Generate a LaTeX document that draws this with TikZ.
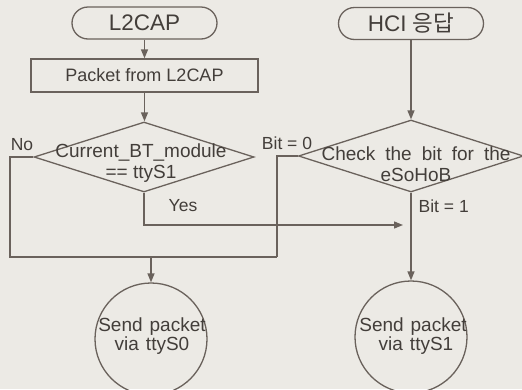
\documentclass[tikz,border=0pt]{standalone}
\usepackage{fontspec}
\setmainfont{Liberation Sans}
\newfontfamily\krfont{Noto Sans CJK KR}
\usetikzlibrary{shapes.geometric,shapes.misc,arrows.meta}
\definecolor{paper}{HTML}{ECEAE5}
\definecolor{ink}{HTML}{6A625C}
\definecolor{txt}{HTML}{433E3A}
\newcommand\widewords{\spaceskip=10pt\relax}
\newcommand\loosewords{\spaceskip=7pt\relax}

\begin{document}
\begin{tikzpicture}[x=1pt,y=-1pt,
  line width=1.3pt, color=ink,
  every node/.style={text=txt},
  body/.style={font=\fontsize{19}{21}\selectfont, align=center, inner sep=0pt},
  wide/.style={font=\fontsize{19}{21}\selectfont\widewords},
  loose/.style={font=\fontsize{19}{19.5}\selectfont\loosewords},
  terminal/.style={draw, rounded rectangle, minimum width=145pt, minimum height=32pt,
                   inner sep=0pt, font=\fontsize{22.5}{25}\selectfont},
  process/.style={draw, rectangle, minimum width=227pt, minimum height=33pt,
                  inner sep=0pt, font=\fontsize{18}{20}\selectfont},
  decision/.style={draw, diamond, inner sep=0pt},
  endpoint/.style={draw, circle, minimum size=112pt, inner sep=0pt},
  tag/.style={font=\fontsize{17.5}{20}\selectfont, inner sep=0pt},
  flow/.style={-{Triangle[length=9pt,width=7pt]}}]

  % paper
  \fill[paper] (0,0) rectangle (522,389);
  \useasboundingbox (0,0) rectangle (522,389);
  \clip (0,0) rectangle (522,389);

  % left column: packets coming down from L2CAP
  \node[terminal] (start1) at (144.5,23) {L2CAP};
  \node[process]  (recv)   at (144.5,75.5) {Packet from L2CAP};
  \node[decision, minimum width=220pt, minimum height=70pt] (chk1) at (144,157) {};
  \node[body] (chk1t) at (141,163) {Current\_BT\_module\\== ttyS1};

  % right column: HCI responses
  \node[terminal] (start2) at (411,23.5) {HCI {\krfont 응답}};
  \node[decision, minimum width=225pt, minimum height=72pt] (chk2) at (411,156) {};
  \node[body, wide] (chk2t) at (416,164) {Check the bit for the\\eSoHoB};

  % serial ports
  \node[endpoint] (tx0) at (151,339) {};
  \node[body, loose] (tx0t) at (152,336) {Send packet\\via ttyS0};
  \node[endpoint] (tx1) at (411,337) {};
  \node[body, loose] (tx1t) at (413,336) {Send packet\\\hspace{6pt}via ttyS1};

  % junction points
  \coordinate (nb) at (10,257);
  \coordinate (jb) at (277,257);
  \coordinate (j0) at (151,257);
  \coordinate (ye) at (403,225);

  % connectors
  \draw[flow] (start1.south) -- (start1.south |- recv.north);
  \draw[flow] (recv.south) -- (recv.south |- chk1.north);
  \draw[flow] (start2.south) -- (chk2.north);
  \draw (chk1.west) -| (nb) -- (jb);
  \draw (chk2.west) -| (jb);
  \draw[flow] (j0) -- (tx0.north);
  \draw[flow] (chk1.south) |- (ye);
  \draw[flow] (chk2.south) -- (tx1.north);

  % branch labels
  \node[tag] (lno)  at (22,145)  {No};
  \node[tag] (lyes) at (183,206) {Yes};
  \node[tag] (lb0)  at (287,143) {Bit = 0};
  \node[tag, anchor=west] (lb1) at (418,206) {Bit = 1};
\end{tikzpicture}
\end{document}
